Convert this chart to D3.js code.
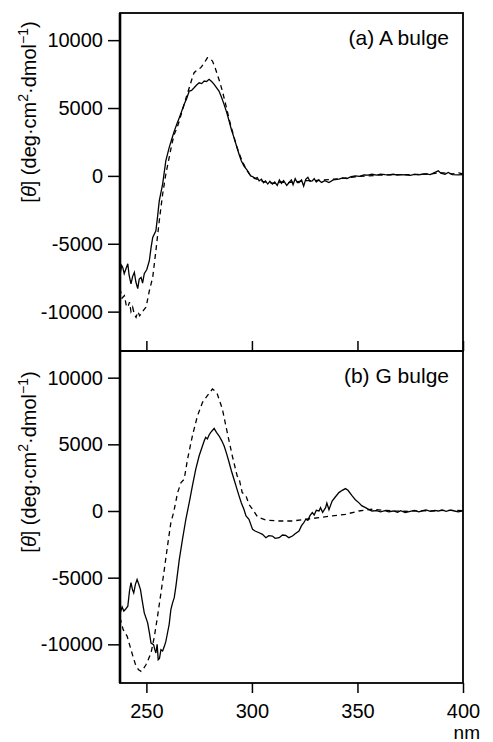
<!DOCTYPE html>
<html>
<head>
<meta charset="utf-8">
<script src="https://cdn.jsdelivr.net/npm/d3@7"></script>
<style>
  body { margin: 0; background: #fff; }
  text { font-family: "Liberation Sans", Arial, Helvetica, sans-serif; fill: #000; }
</style>
</head>
<body>
<svg id="chart" width="493" height="742"></svg>
<script>
// wavelength (nm) / ellipticity values
const xTicks = [250, 300, 350, 400];
const yTicks = [-10000, -5000, 0, 5000, 10000];
const panelLabels = ["(a) A bulge", "(b) G bulge"];

const topSolid = [[237.5,-7300],[238.3,-6600],[238.8,-6740],[239.5,-7200],[240.2,-6900],[241.2,-6470],[241.8,-7300],[242.7,-7950],[243.5,-7400],[244.3,-7100],[245.0,-7800],[245.9,-8300],[246.6,-7600],[247.5,-7480],[248.2,-7900],[249.0,-7200],[250.2,-6900],[251.4,-6250],[252.2,-5300],[253.0,-4530],[254.5,-4040],[255.3,-3000],[256.1,-1840],[257.7,-600],[259.2,1100],[260.8,2080],[262.0,2700],[263.2,3300],[264.4,3800],[265.6,4290],[266.8,4800],[267.9,5270],[269.1,5700],[270.3,6250],[271.4,6300],[272.6,6490],[273.8,6700],[275.0,6860],[276.2,6800],[277.4,6990],[278.5,6950],[279.7,7110],[280.9,6950],[282.1,6740],[283.2,6500],[284.4,6250],[285.6,5800],[286.8,5270],[288.0,4700],[289.2,4040],[290.3,3400],[291.5,2820],[292.7,2200],[293.9,1590],[295.0,1100],[296.2,735],[297.8,400],[299.4,0],[300.3,-50],[301.5,-200],[302.5,-120],[303.4,-370],[304.5,-250],[305.5,-500],[306.4,-370],[307.5,-600],[308.5,-400],[309.7,-610],[310.8,-450],[312,-700],[313,-300],[314,-550],[315,-350],[316.5,-700],[317.6,-490],[318.7,-300],[319.5,-650],[320.5,-200],[321.5,-500],[322.3,-490],[323.5,-300],[324.5,-750],[325.5,-250],[326.5,-100],[327.5,-400],[328.6,-370],[329.5,-200],[330.5,-450],[331.5,-300],[333,-480],[334.5,-350],[336.5,-490],[338.5,-300],[341.2,-245],[343,-150],[345,-200],[347,-50],[349,0],[351,-30],[353,80],[355,50],[356.9,120],[359,60],[361,130],[363,90],[364.8,75],[367,120],[369,60],[370.5,100],[372.6,75],[375,40],[377,110],[379,80],[380.5,120],[382.5,150],[384.5,100],[386.5,250],[388.3,370],[389.5,200],[391.5,120],[393,250],[395,100],[397.8,75],[400,100]];

const topDashed = [[237.5,-8300],[238.5,-9000],[239.6,-8820],[240.4,-9500],[241.2,-9680],[242.0,-9300],[242.7,-10000],[243.5,-9680],[244.3,-10200],[245.1,-10420],[246.0,-10000],[246.8,-10300],[247.5,-10170],[248.6,-9900],[249.8,-9680],[250.6,-9100],[251.4,-8460],[253.0,-7480],[254.5,-5510],[256.1,-3310],[257.7,-1350],[259.2,120],[260.8,1350],[262.0,2300],[263.2,3060],[264.4,3500],[265.6,4040],[266.8,4700],[267.9,5270],[269.1,5900],[270.3,6490],[271.5,7100],[272.6,7600],[274.0,7800],[275.7,7960],[277.3,8300],[278.9,8700],[280.1,8650],[281.3,8460],[282.5,8000],[283.6,7480],[284.8,6900],[286.0,6250],[287.2,5500],[288.3,4780],[289.5,4000],[290.7,3310],[291.8,2700],[293.0,2080],[294.2,1550],[295.4,1100],[296.6,700],[297.8,370],[299,100],[300.5,-100],[302.5,-250],[305,-400],[308,-500],[311,-550],[314,-450],[317,-500],[320,-450],[323,-400],[326,-350],[330,-350],[334,-300],[338,-250],[342,-200],[346,-120],[350,-50],[355,0],[360,50],[365,80],[370,90],[375,100],[380,120],[385,150],[389,250],[392,200],[395,150],[398,220],[400,150]];

const bottomSolid = [[237.5,-7700],[238.5,-7200],[239.3,-7500],[240,-7390],[241.2,-7140],[242,-6000],[242.7,-5380],[243.4,-5900],[244,-6140],[244.8,-5500],[245.6,-5140],[246.4,-5500],[247.2,-5890],[248,-6700],[249,-7640],[250.6,-8390],[251.5,-9200],[252.2,-9900],[253.4,-10020],[254.0,-10400],[254.5,-10650],[255.1,-10000],[255.6,-11150],[256.2,-11050],[256.9,-10400],[257.7,-10500],[258.5,-10150],[259.2,-9800],[260,-9150],[260.8,-8500],[261.6,-7390],[262.4,-6890],[263.2,-6500],[264,-5640],[265.6,-3630],[267.1,-2130],[268.7,-620],[270.3,630],[271.8,1880],[273.4,3140],[275,4140],[276.6,4890],[277.5,5300],[278.1,5520],[278.9,5400],[279.7,5700],[280.5,5900],[282.1,6190],[283.2,5900],[284.4,5640],[285.6,5300],[286.8,4890],[288,4300],[289.2,3640],[290.3,3000],[291.5,2380],[292.7,1750],[293.9,1130],[295,600],[296.2,130],[297.2,-370],[298.6,-620],[300.3,-1380],[301.5,-1500],[303.4,-1630],[305,-1750],[306.6,-2000],[308,-1850],[309.7,-1880],[311,-2050],[312.9,-2000],[314.5,-1800],[316,-1830],[317.5,-2000],[319.2,-1880],[320.5,-1700],[322.3,-1500],[323.5,-1100],[324.5,-900],[325.5,-620],[326.5,-700],[327.5,-350],[328.6,-120],[329.5,-300],[330.5,50],[331.8,0],[332.5,250],[333.5,-100],[334.9,250],[335.5,600],[336.5,100],[338,750],[339.5,1050],[341.2,1380],[342.8,1550],[344.3,1680],[345.5,1550],[347.5,1130],[349,850],[350.6,630],[352,400],[353.8,250],[355.5,100],[356.9,0],[359,30],[361,-60],[363,20],[364.8,-60],[367,0],[369,-100],[370.5,20],[372.6,-120],[375,-30],[377,50],[379,-60],[380.5,0],[382.5,80],[384.5,-30],[386.5,50],[388.3,0],[390,80],[392,-20],[394,60],[396,0],[397.8,-60],[400,20]];

const bottomDashed = [[237.5,-8000],[239,-8900],[240.9,-9400],[242.7,-10400],[244,-11100],[245.1,-11650],[246.3,-11900],[247.5,-12030],[248.7,-11800],[249.8,-11530],[251,-11100],[252.2,-10650],[253.8,-9400],[255.3,-7890],[256.9,-6140],[258.5,-4380],[260,-2630],[261.6,-870],[262.9,-120],[264.8,1380],[266.4,2130],[267.9,2380],[269.5,3890],[271.8,5640],[274.2,7140],[276.6,8150],[278.9,8650],[281.3,9150],[282.5,9000],[283.6,8770],[286,7650],[288.3,5890],[290.7,4140],[293,2630],[294,2380],[295.4,1380],[297.2,1130],[298.6,500],[300.3,130],[302.5,-400],[303.4,-500],[306.6,-680],[312.9,-750],[319.2,-750],[325.5,-620],[331.8,-500],[338,-370],[344.3,-250],[350.6,0],[356.9,130],[362,60],[368,0],[374,-30],[380,30],[386,0],[392,50],[400,30]];

const panels = [
  { label: panelLabels[0], solid: topSolid, dashed: topDashed, top: 13, bottom: 351, xLabels: false, yTitle: 112 },
  { label: panelLabels[1], solid: bottomSolid, dashed: bottomDashed, top: 351, bottom: 683, xLabels: true, yTitle: 462 }
];

const svg = d3.select('#chart');
const left = 120, right = 463;
const x = d3.scaleLinear().domain([237.5, 400]).range([left, right]);
const plain = d => String(d);   // hyphen minus like the original

panels.forEach(p => {
  const y = d3.scaleLinear().domain([-12900, 12000]).range([p.bottom, p.top]);
  const g = svg.append('g');

  const clipId = 'clip' + p.top;
  g.append('clipPath').attr('id', clipId)
    .append('rect').attr('x', left).attr('y', p.top).attr('width', right - left).attr('height', p.bottom - p.top);

  const line = d3.line().x(d => x(d[0])).y(d => y(d[1]));
  g.append('path').datum(p.dashed).attr('d', line)
    .attr('fill', 'none').attr('stroke', '#000').attr('stroke-width', 1.3)
    .attr('stroke-dasharray', '5,4').attr('clip-path', `url(#${clipId})`);
  g.append('path').datum(p.solid).attr('d', line)
    .attr('fill', 'none').attr('stroke', '#000').attr('stroke-width', 1.3)
    .attr('clip-path', `url(#${clipId})`);

  // y axis, ticks outward
  const ya = g.append('g').attr('transform', `translate(${left},0)`)
    .call(d3.axisLeft(y).tickValues(yTicks).tickSize(12).tickPadding(5).tickFormat(plain));
  ya.select('.domain').remove();
  ya.selectAll('line').attr('stroke-width', 1.5);
  ya.selectAll('text').attr('font-size', 20).attr('font-family', '"Liberation Sans", Arial, sans-serif');

  // x axis: top panel ticks point inward without labels, bottom panel ticks outward
  const xa = g.append('g').attr('transform', `translate(0,${p.bottom})`)
    .call(p.xLabels
      ? d3.axisBottom(x).tickValues(xTicks).tickSize(10).tickPadding(11).tickFormat(plain)
      : d3.axisBottom(x).tickValues(xTicks).tickSize(-10).tickFormat(''));
  xa.select('.domain').remove();
  xa.selectAll('line').attr('stroke-width', 1.5);
  xa.selectAll('text').attr('font-size', 20).attr('font-family', '"Liberation Sans", Arial, sans-serif');

  // frame
  g.append('rect').attr('x', left).attr('y', p.top).attr('width', right - left).attr('height', p.bottom - p.top)
    .attr('fill', 'none').attr('stroke', '#000').attr('stroke-width', 1.8);
  g.append('line').attr('x1', left).attr('x2', left).attr('y1', p.top).attr('y2', p.bottom)
    .attr('stroke', '#000').attr('stroke-width', 2.6);

  g.append('text').attr('x', 449).attr('y', p.top + 32).attr('text-anchor', 'end')
    .attr('font-size', 21).text(p.label);

  const t = g.append('text').attr('transform', `translate(36,${p.yTitle}) rotate(-90)`)
    .attr('text-anchor', 'middle').attr('font-size', 20);
  t.append('tspan').text('[');
  t.append('tspan').attr('font-style', 'italic').text('θ');
  t.append('tspan').text('] (deg·cm');
  t.append('tspan').attr('font-size', 14).attr('dy', -8).text('2');
  t.append('tspan').attr('dy', 8).text('·dmol');
  t.append('tspan').attr('font-size', 14).attr('dy', -8).text('−1');
  t.append('tspan').attr('dy', 8).text(')');
});

svg.append('text').attr('x', 480).attr('y', 739).attr('text-anchor', 'end')
  .attr('font-size', 19).text('nm');
</script>
</body>
</html>
